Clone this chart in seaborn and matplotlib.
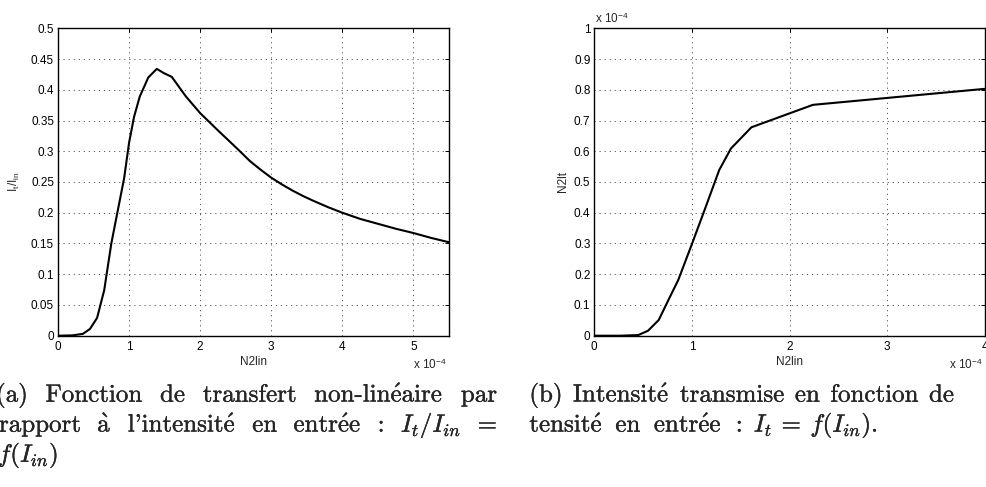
import matplotlib
matplotlib.use("Agg")
import matplotlib.pyplot as plt
import matplotlib.patheffects as pe
import pandas as pd
import seaborn as sns
from matplotlib.ticker import FuncFormatter

# Input intensity N2lin, in units of 1e-4
ratio_x = [0.0, 0.20, 0.35, 0.45, 0.55, 0.65, 0.75, 0.85, 0.93, 1.00, 1.07,
           1.15, 1.27, 1.39, 1.49, 1.60, 1.80, 2.00, 2.24, 2.35, 2.45, 2.55,
           2.70, 2.85, 3.00, 3.15, 3.30, 3.45, 3.60, 3.80, 4.00, 4.25, 4.50,
           4.75, 5.00, 5.25, 5.50]
# Transfer function I_t / I_in
ratio_y = [0.0, 0.0005, 0.003, 0.011, 0.029, 0.074, 0.150, 0.209, 0.256,
           0.314, 0.356, 0.389, 0.420, 0.434, 0.427, 0.421, 0.389, 0.362,
           0.335, 0.323, 0.312, 0.301, 0.284, 0.270, 0.257, 0.246, 0.236,
           0.227, 0.219, 0.209, 0.200, 0.190, 0.182, 0.174, 0.167, 0.159,
           0.152]

# Transmitted intensity N2lt against N2lin (both in units of 1e-4)
trans_x = [0.0, 0.26, 0.45, 0.55, 0.66, 0.77, 0.86, 1.00, 1.13, 1.28, 1.40,
           1.61, 2.24, 4.00]
trans_y = [0.0, 0.0, 0.002, 0.016, 0.051, 0.123, 0.181, 0.298, 0.409, 0.539,
           0.609, 0.678, 0.751, 0.803]

ratio_xticks = [0, 1, 2, 3, 4, 5]
ratio_yticks = [0, 0.05, 0.1, 0.15, 0.2, 0.25, 0.3, 0.35, 0.4, 0.45, 0.5]
trans_xticks = [0, 1, 2, 3, 4]
trans_yticks = [0, 0.1, 0.2, 0.3, 0.4, 0.5, 0.6, 0.7, 0.8, 0.9, 1.0]

sns.set_style("white")
plt.rcParams.update({
    "font.family": ["Liberation Sans", "DejaVu Sans"],
    "mathtext.fontset": "cm",
    "axes.edgecolor": "black",
})

W, H = 986, 487
LABEL_SIZE = 8.5
fig = plt.figure(figsize=(W / 100, H / 100), dpi=100)
fig.patch.set_facecolor("white")


def axes_px(left, top, right, bottom):
    return fig.add_axes([left / W, 1 - bottom / H, (right - left) / W,
                         (bottom - top) / H])


ax1 = axes_px(58, 28.3, 449, 335.7)
ax2 = axes_px(594.3, 28.3, 984.7, 335.7)

df1 = pd.DataFrame({"N2lin": ratio_x, "ratio": ratio_y})
df2 = pd.DataFrame({"N2lin": trans_x, "N2lt": trans_y})
sns.lineplot(data=df1, x="N2lin", y="ratio", ax=ax1, color="black",
             linewidth=1.5, estimator=None, sort=False)
sns.lineplot(data=df2, x="N2lin", y="N2lt", ax=ax2, color="black",
             linewidth=1.5, estimator=None, sort=False)

fmt = FuncFormatter(lambda v, p: f"{v:g}")


def style(ax, xticks, yticks, xlim, ylim):
    ax.set_xlim(*xlim)
    ax.set_ylim(*ylim)
    ax.set_xticks(xticks)
    ax.set_yticks(yticks)
    ax.xaxis.set_major_formatter(fmt)
    ax.yaxis.set_major_formatter(fmt)
    ax.tick_params(direction="in", top=True, right=True, length=3.2,
                   width=0.7, labelsize=LABEL_SIZE, colors="black")
    ax.tick_params(axis="x", pad=4.0)
    ax.tick_params(axis="y", pad=2.8)
    ax.grid(True, color="0.35", linewidth=0.7, linestyle=(0, (1.2, 4.0)))
    for s in ax.spines.values():
        s.set_visible(True)
        s.set_linewidth(1.0)
        s.set_color("black")
    ax.set_facecolor("white")


style(ax1, ratio_xticks, ratio_yticks, (0, 5.5), (0, 0.5))
style(ax2, trans_xticks, trans_yticks, (0, 4), (0, 1))

ax1.set_xlabel("N2lin", fontsize=LABEL_SIZE)
ax2.set_xlabel("N2lin", fontsize=LABEL_SIZE)
ax1.xaxis.set_label_coords(0.5, -0.066)
ax2.xaxis.set_label_coords(0.5, -0.066)
ax1.set_ylabel(r"$\mathregular{I_t/I_{in}}$", fontsize=LABEL_SIZE)
ax2.set_ylabel("N2lt", fontsize=LABEL_SIZE)
ax1.yaxis.set_label_coords(-0.092, 0.5)
ax2.yaxis.set_label_coords(-0.065, 0.5)

sci = r"x 10$^{\mathregular{-4}}$"
ax1.text(0.995, -0.108, sci, transform=ax1.transAxes, ha="right",
         va="baseline", fontsize=LABEL_SIZE)
ax2.text(0.996, -0.108, sci, transform=ax2.transAxes, ha="right",
         va="baseline", fontsize=LABEL_SIZE)
ax2.text(0.002, 1.017, sci, transform=ax2.transAxes, ha="left",
         va="baseline", fontsize=LABEL_SIZE)

# Sub-figure captions, set word by word so that lines can be justified
renderer = fig.canvas.get_renderer()
CAP_SIZE = 18.0
CAP_EFFECT = [pe.withStroke(linewidth=0.2, foreground="black")]


def caption_line(words, y_px, x0, x1=None, gaps=None):
    texts = [fig.text(0, 1 - y_px / H, w, fontsize=CAP_SIZE,
                      family="cmr10", ha="left", va="baseline",
                      path_effects=CAP_EFFECT)
             for w in words]
    widths = [t.get_window_extent(renderer).width for t in texts]
    if gaps is None:
        if x1 is not None and len(words) > 1:
            g = (x1 - x0 - sum(widths)) / (len(words) - 1)
        else:
            g = 10.0
        gaps = [g] * (len(words) - 1)
    x = x0
    for i, (t, w) in enumerate(zip(texts, widths)):
        t.set_x(x / W)
        if i < len(gaps):
            x += w + gaps[i]


E = r"$\mathrm{\acute{e}}$"
A = r"$\mathrm{\grave{a}}$"

caption_line(["(a)", "Fonction", "de", "transfert",
              "non-lin" + E + "aire", "par"], 401.7, -4, 497)
caption_line(["rapport", A, "l'intensit" + E, "en", "entr" + E + "e", ":",
              r"$I_t/I_{in}$", "="], 431.7, -1, 497)
caption_line([r"$f(I_{in})$"], 461.7, -2)

caption_line(["(b)", "Intensit" + E, "transmise", "en", "fonction", "de"],
             401.7, 529.3, 954)
caption_line(["tensit" + E, "en", "entr" + E + "e", ":", r"$I_t$", "=",
              r"$f(I_{in})$."], 431.7, 529.3,
             gaps=[12.5, 13.5, 14.0, 11.0, 9.0, 9.5])

fig.savefig("out.png", dpi=100, facecolor="white")
